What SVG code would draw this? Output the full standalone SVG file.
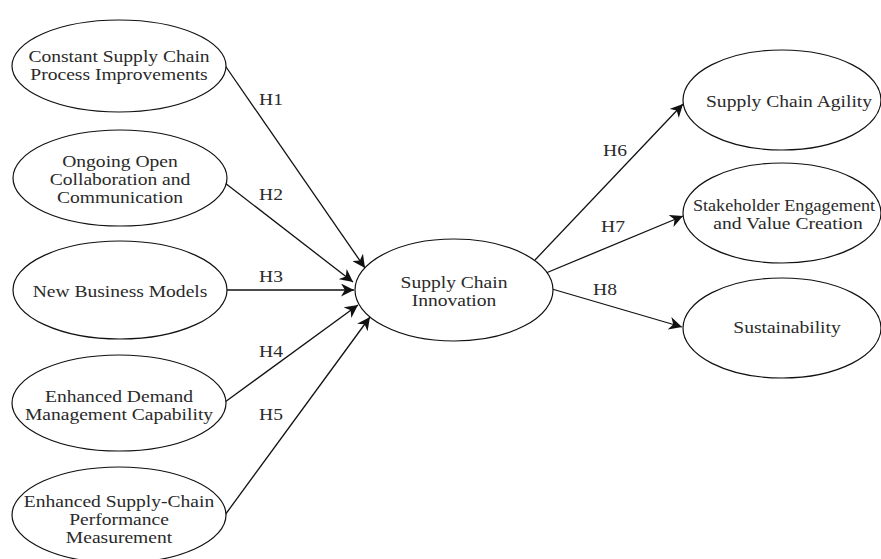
<svg xmlns="http://www.w3.org/2000/svg" width="881" height="559" viewBox="0 0 881 559">
<style>
.n ellipse{fill:#fff;stroke:#111;stroke-width:1.2}
text{font-family:"Liberation Serif","Times New Roman",serif;font-size:17px;fill:#2a2a2a;text-anchor:middle}
.c line{stroke:#111;stroke-width:1.3;marker-end:url(#ah)}
</style>
<defs>
<marker id="ah" viewBox="0 0 10 10" refX="10" refY="5" markerWidth="13" markerHeight="13" markerUnits="userSpaceOnUse" orient="auto">
<path d="M0,0 L10,5 L0,10 L3,5 Z" fill="#111"/>
</marker>
</defs>
<rect width="881" height="559" fill="#fff"/>
<g class="c" id="connectors">
<line x1="224" y1="64" x2="365" y2="268"/>
<line x1="225" y1="183" x2="353" y2="282"/>
<line x1="226" y1="290" x2="354" y2="290"/>
<line x1="225" y1="402" x2="358" y2="305"/>
<line x1="225" y1="515" x2="370" y2="317"/>
<line x1="535" y1="260" x2="683" y2="104"/>
<line x1="546" y1="273" x2="683" y2="216"/>
<line x1="552" y1="289" x2="682" y2="327"/>
<text transform="translate(271,105) scale(1.15,1)">H1</text>
<text transform="translate(271,200) scale(1.15,1)">H2</text>
<text transform="translate(271,282) scale(1.15,1)">H3</text>
<text transform="translate(271,357) scale(1.15,1)">H4</text>
<text transform="translate(271,420) scale(1.15,1)">H5</text>
<text transform="translate(615,156) scale(1.15,1)">H6</text>
<text transform="translate(613,232) scale(1.15,1)">H7</text>
<text transform="translate(605,295) scale(1.15,1)">H8</text>
</g>
<g class="n" id="n1"><ellipse cx="119" cy="66" rx="107" ry="46"/><text transform="translate(119,62) scale(1.15,1)">Constant Supply Chain</text><text transform="translate(119,80) scale(1.15,1)">Process Improvements</text></g>
<g class="n" id="n2"><ellipse cx="120" cy="178" rx="107" ry="48"/><text transform="translate(120,167) scale(1.15,1)">Ongoing Open</text><text transform="translate(120,185) scale(1.15,1)">Collaboration and</text><text transform="translate(120,203) scale(1.15,1)">Communication</text></g>
<g class="n" id="n3"><ellipse cx="120" cy="290" rx="107" ry="49"/><text transform="translate(120,297) scale(1.15,1)">New Business Models</text></g>
<g class="n" id="n4"><ellipse cx="119" cy="403" rx="107" ry="48"/><text transform="translate(119,402) scale(1.15,1)">Enhanced Demand</text><text transform="translate(119,420) scale(1.15,1)">Management Capability</text></g>
<g class="n" id="n5"><ellipse cx="119" cy="515" rx="107" ry="48"/><text transform="translate(119,507) scale(1.15,1)">Enhanced Supply-Chain</text><text transform="translate(119,525) scale(1.15,1)">Performance</text><text transform="translate(119,543) scale(1.15,1)">Measurement</text></g>
<g class="n" id="center"><ellipse cx="454" cy="290" rx="99" ry="51"/><text transform="translate(454,288) scale(1.15,1)">Supply Chain</text><text transform="translate(454,306) scale(1.15,1)">Innovation</text></g>
<g class="n" id="r1"><ellipse cx="782" cy="100" rx="99" ry="50"/><text transform="translate(789,107) scale(1.15,1)">Supply Chain Agility</text></g>
<g class="n" id="r2"><ellipse cx="782" cy="213" rx="99" ry="50"/><text transform="translate(784,211) scale(1.07,1)">Stakeholder Engagement</text><text transform="translate(788,229) scale(1.15,1)">and Value Creation</text></g>
<g class="n" id="r3"><ellipse cx="782" cy="328" rx="99" ry="50"/><text transform="translate(787,333) scale(1.15,1)">Sustainability</text></g>
</svg>
